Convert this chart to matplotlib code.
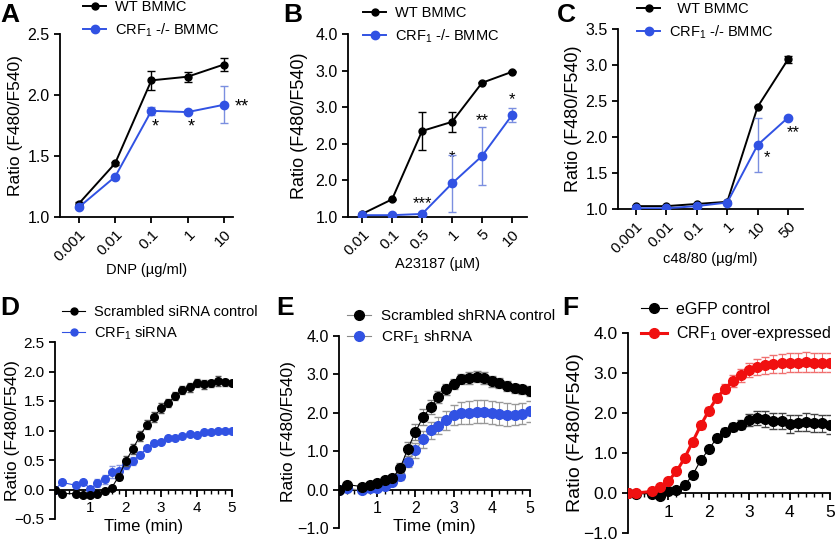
import matplotlib
matplotlib.use('Agg')
import matplotlib.pyplot as plt
from matplotlib.lines import Line2D
from matplotlib.ticker import MultipleLocator

plt.rcParams['font.family'] = ['Liberation Sans', 'DejaVu Sans']
plt.rcParams['mathtext.fontset'] = 'custom'
plt.rcParams['mathtext.rm'] = 'Liberation Sans'
plt.rcParams['mathtext.it'] = 'Liberation Sans'
plt.rcParams['axes.linewidth'] = 1.3
plt.rcParams['xtick.major.width'] = 1.3
plt.rcParams['ytick.major.width'] = 1.3

BLUE = '#3152e3'
RED = '#f01010'

# ---- top row data ----
dnp_labels = ['0.001', '0.01', '0.1', '1', '10']
a_wt = [1.11, 1.44, 2.12, 2.15, 2.25]
a_wt_err = [0.01, 0.01, 0.08, 0.04, 0.05]
a_ko = [1.08, 1.33, 1.87, 1.86, 1.92]
a_ko_err = [0.01, 0.01, 0.03, 0.01, 0.15]

a23_labels = ['0.01', '0.1', '0.5', '1', '5', '10']
b_wt = [1.05, 1.29, 2.41, 2.56, 3.20, 3.38]
b_wt_err = [0.01, 0.01, 0.31, 0.16, 0.01, 0.01]
b_ko = [1.03, 1.03, 1.05, 1.55, 2.00, 2.67]
b_ko_err = [0.01, 0.01, 0.01, 0.47, 0.48, 0.11]

c48_labels = ['0.001', '0.01', '0.1', '1', '10', '50']
c_wt = [1.04, 1.04, 1.07, 1.10, 2.42, 3.08]
c_wt_err = [0.01, 0.01, 0.01, 0.01, 0.01, 0.05]
c_ko = [1.01, 1.01, 1.04, 1.09, 1.89, 2.27]
c_ko_err = [0.01, 0.01, 0.01, 0.01, 0.38, 0.01]

# ---- bottom row data (time course) ----
t = [0, 0.2, 0.6, 0.8, 1.0, 1.2, 1.4, 1.6, 1.8, 2.0, 2.2, 2.4, 2.6,
     2.8, 3.0, 3.2, 3.4, 3.6, 3.8, 4.0, 4.2, 4.4, 4.6, 4.8, 5.0]

d_scr = [0, -0.07, -0.07, -0.09, -0.09, -0.07, -0.03, 0.03, 0.22, 0.48, 0.69, 0.91, 1.10,
         1.23, 1.38, 1.47, 1.58, 1.69, 1.73, 1.81, 1.78, 1.80, 1.84, 1.82, 1.81]
d_scr_err = [0, 0.03, 0.03, 0.03, 0.03, 0.03, 0.03, 0.03, 0.06, 0.08, 0.08, 0.08, 0.08,
             0.08, 0.08, 0.07, 0.07, 0.07, 0.07, 0.07, 0.07, 0.06, 0.08, 0.06, 0.05]
d_si = [0, 0.12, 0.07, 0.12, 0.01, 0.11, 0.17, 0.29, 0.32, 0.42, 0.48, 0.59, 0.70,
        0.78, 0.80, 0.87, 0.87, 0.91, 0.94, 0.92, 0.98, 0.98, 0.99, 1.00, 0.99]
d_si_err = [0, 0.03, 0.03, 0.03, 0.03, 0.06, 0.08, 0.10, 0.09, 0.08, 0.07, 0.05, 0.04,
            0.03, 0.03, 0.03, 0.03, 0.03, 0.03, 0.03, 0.02, 0.02, 0.02, 0.02, 0.02]

e_scr = [0, 0.13, 0.08, 0.13, 0.16, 0.24, 0.30, 0.56, 1.06, 1.50, 1.89, 2.15, 2.41,
         2.61, 2.76, 2.88, 2.91, 2.94, 2.91, 2.82, 2.78, 2.70, 2.64, 2.61, 2.57]
e_scr_err = [0, 0.05, 0.05, 0.05, 0.05, 0.06, 0.08, 0.12, 0.18, 0.2, 0.2, 0.18, 0.15,
             0.14, 0.13, 0.13, 0.15, 0.15, 0.15, 0.14, 0.13, 0.13, 0.12, 0.12, 0.12]
e_sh = [0, 0.03, -0.01, 0.03, 0.05, 0.10, 0.20, 0.35, 0.73, 1.02, 1.31, 1.54, 1.66,
        1.80, 1.94, 2.00, 2.00, 2.03, 2.03, 2.00, 1.98, 1.95, 1.95, 1.98, 2.04]
e_sh_err = [0, 0.03, 0.03, 0.03, 0.04, 0.05, 0.06, 0.1, 0.15, 0.2, 0.22, 0.22, 0.22,
            0.24, 0.26, 0.28, 0.3, 0.3, 0.3, 0.3, 0.3, 0.3, 0.28, 0.28, 0.28]

f_gfp = [0, -0.02, -0.02, -0.08, 0.04, 0.08, 0.19, 0.45, 0.82, 1.09, 1.38, 1.53, 1.65,
         1.71, 1.83, 1.87, 1.86, 1.81, 1.81, 1.73, 1.76, 1.77, 1.75, 1.74, 1.71]
f_gfp_err = [0, 0.02, 0.02, 0.03, 0.03, 0.03, 0.04, 0.05, 0.06, 0.07, 0.08, 0.09, 0.1,
             0.12, 0.15, 0.18, 0.2, 0.2, 0.2, 0.22, 0.2, 0.22, 0.22, 0.22, 0.23]
f_oe = [0, 0.0, 0.04, 0.14, 0.30, 0.54, 0.87, 1.28, 1.69, 2.06, 2.38, 2.61, 2.80,
        2.94, 3.08, 3.15, 3.19, 3.22, 3.24, 3.26, 3.26, 3.27, 3.26, 3.26, 3.26]
f_oe_err = [0, 0.02, 0.02, 0.03, 0.04, 0.05, 0.06, 0.07, 0.08, 0.09, 0.1, 0.12, 0.14,
            0.16, 0.18, 0.2, 0.22, 0.22, 0.23, 0.24, 0.24, 0.25, 0.24, 0.24, 0.24]

W, H = 835, 542
fig = plt.figure(figsize=(W / 100, H / 100), dpi=100)


def px_axes(left, right, top, bottom):
    ax = fig.add_axes([left / W, (H - bottom) / H, (right - left) / W, (bottom - top) / H])
    ax.box_px = (left, right, top, bottom)
    return ax


def ylabel_at(ax, xpx, size):
    left, right, top, bottom = ax.box_px
    ax.set_ylabel('Ratio (F480/F540)', fontsize=size)
    ax.yaxis.set_label_coords((xpx - left) / (right - left), 0.5)
    ax.yaxis.label.set_va('center')


def xlabel_at(ax, text, ypx, size):
    left, right, top, bottom = ax.box_px
    ax.set_xlabel(text, fontsize=size)
    ax.xaxis.set_label_coords(0.5, (bottom - ypx) / (bottom - top))
    ax.xaxis.label.set_va('center')


def legend_at(ax, handles, labels, xpx, ypx, size, spacing):
    ax.legend(handles, labels, loc='upper left', bbox_to_anchor=(xpx / W, (H - ypx) / H),
              bbox_transform=fig.transFigure, frameon=False, fontsize=size,
              handlelength=1.6, handletextpad=0.6, labelspacing=spacing,
              borderaxespad=0, borderpad=0)


def top_panel(ax, labels, wt, wt_err, ko, ko_err, xlim, ylim):
    x = list(range(len(labels)))
    ax.errorbar(x, wt, yerr=wt_err, color='black', marker='o', ms=5, lw=1.4,
                capsize=3, elinewidth=1, zorder=3)
    ax.errorbar(x, ko, yerr=ko_err, color=BLUE, marker='o', ms=6, lw=1.4,
                ecolor='#7b8fe0', capsize=3, elinewidth=1, zorder=4)
    ax.set_xlim(*xlim)
    ax.set_ylim(*ylim)
    ax.set_xticks(x)
    ax.set_xticklabels(labels, rotation=45, ha='right', rotation_mode='anchor')
    ax.spines['top'].set_visible(False)
    ax.spines['right'].set_visible(False)
    ax.tick_params(labelsize=11.5, length=4, direction='out')
    ax.tick_params(axis='x', labelsize=11)


top_handles = [Line2D([], [], color='black', marker='o', ms=5, lw=1.4),
               Line2D([], [], color=BLUE, marker='o', ms=6, lw=1.4)]
top_labels = ['WT BMMC', 'CRF$_1$ -/- BMMC']


def bottom_panel(ax, ylim, ystep, size):
    ax.set_xlim(0, 5)
    ax.set_ylim(*ylim)
    ax.spines['top'].set_visible(False)
    ax.spines['right'].set_visible(False)
    ax.spines['bottom'].set_position(('data', 0))
    ax.xaxis.set_minor_locator(MultipleLocator(0.2))
    ax.set_xticks([1, 2, 3, 4, 5])
    ax.yaxis.set_major_locator(MultipleLocator(ystep))
    ax.yaxis.set_major_formatter('{x:.1f}')
    ax.tick_params(axis='x', which='major', length=5, labelsize=size)
    ax.tick_params(axis='x', which='minor', length=3, width=1)
    ax.tick_params(axis='y', length=4, labelsize=size)


# ---- A ----
axA = px_axes(60, 233, 34, 217)
top_panel(axA, dnp_labels, a_wt, a_wt_err, a_ko, a_ko_err, (-0.52, 4.25), (1.0, 2.5))
axA.set_yticks([1.0, 1.5, 2.0, 2.5])
axA.yaxis.set_major_formatter('{x:.1f}')
axA.text(2.1, 1.74, '*', fontsize=13, ha='center', va='center')
axA.text(3.1, 1.74, '*', fontsize=13, ha='center', va='center')
axA.text(4.5, 1.9, '**', fontsize=13, ha='center', va='center')
ylabel_at(axA, 16, 12.5)
xlabel_at(axA, 'DNP (\u00b5g/ml)', 270, 10.5)
legend_at(axA, top_handles, top_labels, 83, 0, 10.5, 0.5)

# ---- B ----
axB = px_axes(348, 527, 34, 217)
top_panel(axB, a23_labels, b_wt, b_wt_err, b_ko, b_ko_err, (-0.47, 5.5), (1.0, 4.0))
axB.set_yticks([1.0, 1.6, 2.2, 2.8, 3.4, 4.0])
axB.set_yticklabels(['1.0', '2.0', '2.0', '3.0', '3.0', '4.0'])
axB.text(2, 1.22, '***', fontsize=12, ha='center', va='center')
axB.text(3, 1.98, '*', fontsize=12, ha='center', va='center')
axB.text(4, 2.58, '**', fontsize=12, ha='center', va='center')
axB.text(5, 2.93, '*', fontsize=12, ha='center', va='center')
ylabel_at(axB, 299, 13)
xlabel_at(axB, 'A23187 (\u00b5M)', 264, 10.5)
legend_at(axB, top_handles, top_labels, 363, 6, 10.5, 0.5)

# ---- C ----
axC = px_axes(618, 803, 29, 209)
top_panel(axC, c48_labels, c_wt, c_wt_err, c_ko, c_ko_err, (-0.59, 5.49), (1.0, 3.5))
axC.set_yticks([1.0, 1.5, 2.0, 2.5, 3.0, 3.5])
axC.yaxis.set_major_formatter('{x:.1f}')
axC.text(4.3, 1.72, '*', fontsize=12, ha='center', va='center')
axC.text(5.17, 2.06, '**', fontsize=12, ha='center', va='center')
ylabel_at(axC, 574, 13)
xlabel_at(axC, 'c48/80 (\u00b5g/ml)', 259, 10.5)
legend_at(axC, top_handles, ['  WT BMMC', 'CRF$_1$ -/- BMMC'], 637, 2, 10.5, 0.5)

# ---- D ----
axD = px_axes(55, 232, 342, 519)
axD.errorbar(t, d_scr, yerr=d_scr_err, color='black', marker='o', ms=5.5, lw=0.8,
             ecolor='#555555', capsize=2.5, elinewidth=0.8, zorder=4)
axD.errorbar(t, d_si, yerr=d_si_err, color=BLUE, marker='o', ms=5.5, lw=0.8,
             ecolor='#8797e0', capsize=2.5, elinewidth=0.8, zorder=3)
bottom_panel(axD, (-0.5, 2.5), 0.5, 11)
ylabel_at(axD, 12, 12.5)
xlabel_at(axD, 'Time (min)', 526, 12)
legend_at(axD, [Line2D([], [], color='black', marker='o', ms=5, lw=0.8),
                Line2D([], [], color=BLUE, marker='o', ms=5, lw=0.8)],
          ['Scrambled siRNA control', 'CRF$_1$ siRNA'], 62, 305, 10.5, 0.35)

# ---- E ----
axE = px_axes(339, 530, 336, 528)
axE.errorbar(t, e_scr, yerr=e_scr_err, color='black', marker='o', ms=7, lw=0.8,
             ecolor='#888888', capsize=3, elinewidth=0.8, zorder=4)
axE.errorbar(t, e_sh, yerr=e_sh_err, color='#999999', marker='o', ms=7, lw=0.8,
             mfc=BLUE, mec=BLUE, ecolor='#999999', capsize=3, elinewidth=0.8, zorder=3)
bottom_panel(axE, (-1.0, 4.0), 1.0, 11.5)
ylabel_at(axE, 288, 12.5)
xlabel_at(axE, 'Time (min)', 526, 12.5)
legend_at(axE, [Line2D([], [], color='#888888', marker='o', ms=7, lw=0.8, mfc='black', mec='black'),
                Line2D([], [], color='#888888', marker='o', ms=7, lw=0.8, mfc=BLUE, mec=BLUE)],
          ['Scrambled shRNA control', 'CRF$_1$ shRNA'], 347, 309, 11, 0.35)

# ---- F ----
axF = px_axes(628, 830, 333, 533)
axF.errorbar(t, f_gfp, yerr=f_gfp_err, color='black', marker='o', ms=7, lw=0.8,
             ecolor='#444444', capsize=3, elinewidth=0.8, zorder=3)
axF.errorbar(t, f_oe, yerr=f_oe_err, color=RED, marker='o', ms=7, lw=2.2,
             ecolor='#f07070', capsize=3, elinewidth=0.8, zorder=4)
bottom_panel(axF, (-1.0, 4.0), 1.0, 12.5)
ylabel_at(axF, 576, 14)
legend_at(axF, [Line2D([], [], color='black', marker='o', ms=7, lw=0.8),
                Line2D([], [], color=RED, marker='o', ms=7, lw=2.2)],
          ['eGFP control', 'CRF$_1$ over-expressed'], 641, 302, 11.5, 0.45)

# panel letters
for lab, x, y in [('A', 0, 22), ('B', 283, 22), ('C', 557, 22),
                  ('D', 0, 315), ('E', 276, 315), ('F', 562, 315)]:
    fig.text(x / W, (H - y) / H, lab, fontsize=19, fontweight='bold', va='baseline')

fig.savefig('out.png', dpi=100)
